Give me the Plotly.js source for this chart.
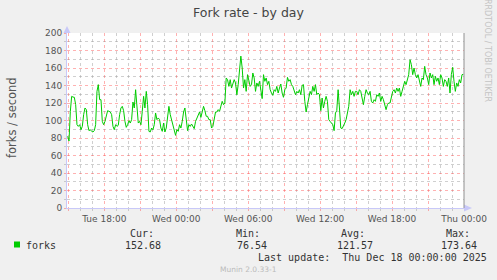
<!DOCTYPE html>
<html>
<head>
<meta charset="utf-8">
<script src="https://cdn.plot.ly/plotly-3.0.1.min.js"></script>
<style>html,body{margin:0;padding:0;background:#f0f0f0;}#chart{width:497px;height:280px;}</style>
</head>
<body>
<div id="chart"></div>
<script>
// Sample start and spacing (regular RRD samples)
const sampleStart = '2025-12-16 14:56:40';
const sampleStepMs = 400000;
// forks per second
const forks = [
82.0,76.5,110.5,127.6,126.8,126.5,118.1,95.2,93.3,95.2,89.5,93.3,106.7,114.3,112.4,95.2,88.4,89.5,87.6,86.9,
88.4,95.2,133.3,141.0,123.8,123.8,99.0,95.2,99.0,106.7,111.2,110.5,109.7,106.7,93.3,89.5,95.2,93.3,94.5,106.7,
114.3,116.2,111.2,99.0,92.2,95.2,99.8,97.1,101.0,121.1,114.3,135.2,118.1,97.1,99.0,95.2,110.5,127.6,114.3,133.3,
118.1,87.6,86.9,91.4,89.5,95.2,108.6,101.0,102.9,101.0,91.4,87.6,97.1,86.9,91.4,102.9,116.2,106.7,101.0,95.2,
87.6,83.0,89.5,87.6,95.2,91.4,99.0,109.7,114.3,101.0,88.4,95.2,93.3,96.0,93.3,90.7,99.0,102.9,106.7,109.7,
103.6,109.7,116.2,111.2,104.8,104.8,101.0,101.0,91.4,93.3,102.9,109.7,109.7,112.4,110.5,118.1,121.9,118.1,120.0,148.6,
146.7,139.0,146.7,137.1,141.0,146.7,142.9,129.5,141.0,156.2,173.6,160.0,137.1,146.7,133.3,152.4,146.7,139.0,141.0,154.3,
148.6,133.3,142.9,139.0,144.8,137.1,125.0,152.4,144.8,148.6,141.0,144.8,
135.2,131.4,128.8,135.2,133.3,139.0,131.4,137.1,141.7,131.4,126.5,135.2,137.1,149.3,144.8,146.7,141.0,139.0,135.2,129.5,
133.3,131.4,135.2,129.5,140.2,141.0,121.9,109.7,118.1,127.6,133.3,129.5,139.0,133.3,141.0,129.5,131.4,129.5,111.2,125.7,
114.3,121.9,127.6,121.9,101.0,99.0,97.1,95.2,88.4,108.6,111.2,135.2,114.3,91.4,90.7,95.2,97.1,101.0,108.6,116.2,
135.2,129.5,133.3,127.6,133.3,133.3,129.5,135.2,133.3,123.8,118.1,127.6,135.2,131.4,129.5,133.3,121.9,120.0,123.8,121.9,
129.5,127.6,131.4,121.9,127.6,123.8,116.2,112.4,118.1,120.0,120.0,125.7,133.3,135.2,131.4,137.1,133.3,137.1,127.6,133.3,
139.0,144.8,141.0,148.6,152.4,169.5,163.8,152.4,160.0,152.4,148.6,152.4,146.7,139.0,148.6,146.7,161.9,152.4,148.6,141.0,
154.3,148.6,152.4,141.0,150.5,144.8,148.6,141.0,152.4,148.6,139.0,146.7,144.8,139.0,148.6,131.4,152.4,160.8,144.8,133.3,
142.9,139.0,146.7,142.9,152.4,152.7
];
const seriesName = 'forks';
const statLabels = ['Cur:', 'Min:', 'Avg:', 'Max:'];
const statValues = ['152.68', '76.54', '121.57', '173.64'];
const lastUpdate = 'Last update:  Thu Dec 18 00:00:00 2025';

// pixel -> paper helpers (plot area: x 67..464, y 33..208)
const PL = 67, PR = 464, PT = 33, PB = 208;
const px = x => (x - PL) / (PR - PL);
const py = y => (PB - y) / (PB - PT);

const mono = 'DejaVu Sans Mono, monospace';
const sans = 'DejaVu Sans, sans-serif';

function ann(text, x, y, opt) {
  return Object.assign({
    text: text, xref: 'paper', yref: 'paper', x: px(x), y: py(y),
    xanchor: 'center', yanchor: 'middle', showarrow: false,
    font: {family: mono, size: 10, color: '#333'}
  }, opt || {});
}

const annotations = [
  ann('Fork rate - by day', 248, 13, {font: {family: sans, size: 12.5, color: '#444'}}),
  ann('forks / second', 12, 118, {textangle: -90, font: {family: sans, size: 11.5, color: '#555'}}),
  ann('RRDTOOL / TOBI OETIKER', 488, 51, {textangle: 90, font: {family: sans, size: 8, color: '#c4c4c4'}}),
  ann(seriesName, 41, 245),
  ann('Munin 2.0.33-1', 248, 269, {font: {family: sans, size: 7.5, color: '#bbb'}}),
  ann(lastUpdate, 372, 257)
];
const labelX = [142, 248, 353, 458];
const valueX = [143, 252, 354.5, 459];
statLabels.forEach((s, i) => annotations.push(ann(s, labelX[i], 233.5)));
statValues.forEach((s, i) => annotations.push(ann(s, valueX[i], 245.3)));

const axisBlue = '#c8c8f8';
const shapes = [
  {type: 'path', xref: 'paper', yref: 'paper',
   path: `M ${px(63.5)} ${py(33)} L ${px(70.5)} ${py(33)} L ${px(67)} ${py(26)} Z`,
   fillcolor: axisBlue, line: {width: 0}},
  {type: 'path', xref: 'paper', yref: 'paper',
   path: `M ${px(464)} ${py(204.5)} L ${px(464)} ${py(211.5)} L ${px(472)} ${py(208)} Z`,
   fillcolor: axisBlue, line: {width: 0}},
  {type: 'line', xref: 'paper', yref: 'paper', x0: 1, x1: 1, y0: 0, y1: 1,
   line: {color: '#909090', width: 1}},
  {type: 'rect', xref: 'paper', yref: 'paper', x0: px(14), x1: px(20), y0: py(247.5), y1: py(241.5),
   fillcolor: '#00cc00', line: {width: 0}}
];

const red = 'rgba(255,70,70,0.42)';
const grey = 'rgba(160,160,160,0.5)';

const data = [{
  type: 'scatter', mode: 'lines', name: seriesName,
  x0: sampleStart, dx: sampleStepMs, y: forks,
  line: {color: '#00cc00', width: 1},
  hoverinfo: 'skip'
}];

const layout = {
  width: 497, height: 280,
  margin: {l: PL, r: 497 - PR, t: PT, b: 280 - PB, pad: 0},
  paper_bgcolor: '#f0f0f0', plot_bgcolor: '#ffffff',
  showlegend: false,
  xaxis: {
    type: 'date',
    range: ['2025-12-16 14:53:20', '2025-12-18 00:00:00'],
    tick0: '2025-12-16 18:00:00', dtick: 3 * 3600000, ticklabelstep: 2,
    tickformat: '%a %H:%M',
    tickfont: {family: sans, size: 9, color: '#555'},
    showgrid: true, gridcolor: red, griddash: 'dot', gridwidth: 1,
    ticks: 'outside', ticklen: 2, tickcolor: red,
    minor: {dtick: 3600000, tick0: '2025-12-16 18:00:00', showgrid: true, gridcolor: grey, griddash: 'dot', ticks: 'outside', ticklen: 2, tickcolor: grey},
    showline: true, linecolor: axisBlue, linewidth: 1,
    zeroline: false, fixedrange: true
  },
  yaxis: {
    range: [0, 200], dtick: 20, tick0: 0,
    tickfont: {family: sans, size: 9, color: '#555'},
    showgrid: true, gridcolor: red, griddash: 'dot', gridwidth: 1,
    ticks: 'outside', ticklen: 2, tickcolor: red,
    minor: {dtick: 10, showgrid: true, gridcolor: grey, griddash: 'dot', ticks: 'outside', ticklen: 2, tickcolor: grey},
    showline: true, linecolor: axisBlue, linewidth: 1,
    zeroline: false, fixedrange: true
  },
  annotations: annotations,
  shapes: shapes
};

Plotly.newPlot('chart', data, layout, {displayModeBar: false, staticPlot: true});
</script>
</body>
</html>
